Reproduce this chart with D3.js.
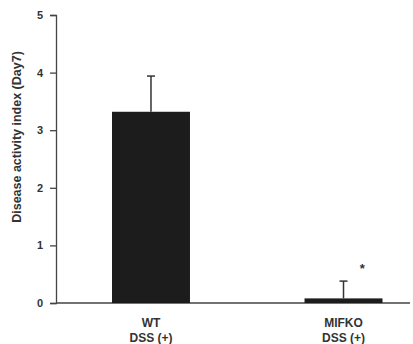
<!DOCTYPE html>
<html><head><meta charset="utf-8">
<script src="https://cdn.jsdelivr.net/npm/d3@7"></script>
<style>body{margin:0;background:#fff;}svg{display:block;}</style>
</head><body>
<script>
const categories = ["WT", "MIFKO"];
const subLabels = ["DSS (+)", "DSS (+)"];
const values = [3.32, 0.08];
const errors = [0.62, 0.30];
const significance = ["", "*"];
const yTicks = [0, 1, 2, 3, 4, 5];
const yLabel = "Disease activity index (Day7)";

const W = 413, H = 344;
const svg = d3.select("body").append("svg").attr("width", W).attr("height", H);
const x0 = 56, xEnd = 410, y0 = 303, yTop = 15;
const y = d3.scaleLinear().domain([0, 5]).range([y0, yTop]);
const x = d3.scaleBand().domain(categories).range([54.25, 440.25]).paddingInner(0.595).paddingOuter(0.3);
const ink = "#1c1c1c";
const font = "Liberation Sans, Arial, sans-serif";

// y axis
const ya = svg.append("g").attr("transform", `translate(${x0},0)`)
  .call(d3.axisLeft(y).tickValues(yTicks).tickFormat(d3.format("d")).tickSize(6).tickPadding(7));
ya.select(".domain").attr("stroke", "#444").attr("stroke-width", 1.3);
ya.selectAll(".tick line").attr("stroke", "#444").attr("stroke-width", 1.3);
ya.selectAll(".tick text").attr("font-family", font).attr("font-size", 11).attr("font-weight", "bold").attr("fill", "#333");

// baseline
svg.append("line").attr("x1", x0).attr("x2", xEnd).attr("y1", y0).attr("y2", y0)
  .attr("stroke", "#444").attr("stroke-width", 1.3);

// bars
svg.selectAll("rect.bar").data(categories).enter().append("rect")
  .attr("x", d => x(d)).attr("width", x.bandwidth())
  .attr("y", (d, i) => y(values[i])).attr("height", (d, i) => y0 - y(values[i]))
  .attr("fill", ink);

// error bars
categories.forEach((c, i) => {
  const cx = x(c) + x.bandwidth() / 2;
  svg.append("line").attr("x1", cx).attr("x2", cx).attr("y1", y(values[i])).attr("y2", y(values[i] + errors[i]))
    .attr("stroke", "#333").attr("stroke-width", 1.5);
  svg.append("line").attr("x1", cx - 4).attr("x2", cx + 4).attr("y1", y(values[i] + errors[i])).attr("y2", y(values[i] + errors[i]))
    .attr("stroke", "#333").attr("stroke-width", 1.5);
  if (significance[i]) {
    svg.append("text").attr("x", x(c) + x.bandwidth() * 0.74).attr("y", y(values[i] + errors[i]) - 8)
      .attr("text-anchor", "middle").attr("font-family", font).attr("font-size", 13).attr("font-weight", "bold")
      .attr("fill", "#333").text(significance[i]);
  }
  svg.append("text").attr("x", cx).attr("y", 327).attr("text-anchor", "middle")
    .attr("font-family", font).attr("font-size", 12).attr("font-weight", "bold").attr("fill", "#333").text(c);
  svg.append("text").attr("x", cx).attr("y", 342).attr("text-anchor", "middle")
    .attr("font-family", font).attr("font-size", 12).attr("font-weight", "bold").attr("fill", "#333").text(subLabels[i]);
});

// y label
svg.append("text").attr("transform", `translate(21,137) rotate(-90)`).attr("text-anchor", "middle")
  .attr("font-family", font).attr("font-size", 12.5).attr("font-weight", "bold").attr("fill", "#333").text(yLabel);
</script>
</body></html>
